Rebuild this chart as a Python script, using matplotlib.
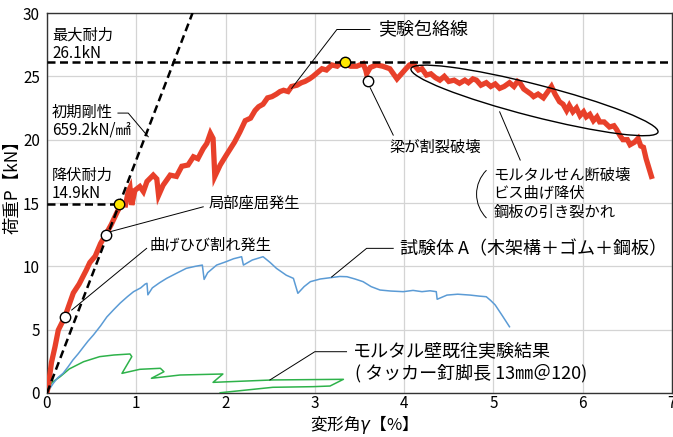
import numpy as np
import matplotlib
matplotlib.use('Agg')
import matplotlib.pyplot as plt
from matplotlib.patches import Ellipse, Arc
from matplotlib.transforms import ScaledTranslation

plt.rcParams['font.family'] = ['Noto Sans CJK JP', 'DejaVu Sans']

# 実験包絡線 (red)
env_x = [0, 0.02, 0.05, 0.09, 0.127, 0.2, 0.24, 0.295, 0.36, 0.44, 0.48, 0.54, 0.6, 0.657,
         0.72, 0.78, 0.83, 0.88, 0.91, 0.93, 0.95, 0.985, 1.04, 1.08, 1.12, 1.19, 1.23, 1.25,
         1.3, 1.38, 1.45, 1.51, 1.58, 1.64, 1.69, 1.75, 1.79, 1.83, 1.86, 1.87, 1.88,
         1.94, 2.01, 2.1, 2.16, 2.22, 2.28, 2.33, 2.37, 2.42, 2.47, 2.52, 2.57,
         2.61, 2.65, 2.7, 2.74, 2.8, 2.85, 2.89, 2.94, 2.98, 3.03, 3.08, 3.13, 3.19, 3.25,
         3.29, 3.34, 3.4, 3.47, 3.54, 3.57, 3.58, 3.62, 3.69, 3.76, 3.84, 3.88, 3.92, 3.97, 4.02,
         4.06, 4.1, 4.16, 4.2, 4.25, 4.3, 4.35, 4.4, 4.45, 4.5, 4.56, 4.62, 4.68, 4.72, 4.77,
         4.81, 4.86, 4.92, 4.97, 5.02, 5.07, 5.12, 5.18, 5.23, 5.27, 5.3, 5.34, 5.38, 5.42,
         5.45, 5.5, 5.56, 5.6, 5.65, 5.69, 5.74, 5.78, 5.82, 5.85, 5.89, 5.93, 5.97, 6.01,
         6.04, 6.08, 6.12, 6.16, 6.19, 6.24, 6.3, 6.35, 6.38, 6.42, 6.45, 6.5, 6.53, 6.58,
         6.62, 6.65, 6.68, 6.71, 6.74, 6.77]
env_y = [0, 0.8, 2.4, 3.65, 4.97, 6.0, 6.8, 7.9, 8.6, 9.7, 10.3, 10.8, 11.8, 12.5,
         13.3, 14.2, 14.9, 14.85, 15.9, 16.2, 14.85, 16.0, 16.3, 15.9, 16.7, 17.2, 16.9, 15.6,
         16.4, 17.2, 17.1, 17.9, 18.0, 18.65, 18.5, 19.3, 19.7, 20.5, 20.1, 18.6, 17.1,
         18.0, 18.8, 19.8, 20.6, 21.5, 21.7, 22.3, 22.6, 22.8, 23.3, 23.4, 23.6,
         23.8, 23.9, 23.8, 24.2, 24.3, 24.5, 24.6, 24.8, 25.0, 25.3, 25.6, 25.5, 25.9, 25.8,
         26.05, 26.0, 25.8, 25.8, 26.0, 25.5, 25.2, 25.7, 25.9, 25.8, 25.6, 25.2, 24.8, 25.2, 25.6,
         25.9, 26.0, 25.5, 25.6, 25.1, 25.2, 24.9, 24.7, 25.0, 24.6, 24.7, 24.45, 24.7, 24.5, 24.8,
         24.7, 24.3, 24.5, 24.2, 24.4, 24.05, 24.2, 24.5, 24.2, 24.6, 24.45, 24.0, 23.8, 23.6,
         23.4, 23.6, 23.3, 23.7, 24.2, 23.6, 23.0, 22.8, 22.3, 22.7, 22.2, 22.5, 21.9, 22.2,
         21.8, 22.0, 21.5, 21.8, 21.4, 21.4, 21.0, 21.1, 20.8, 20.3, 20.0, 20.0, 19.6, 19.8,
         20.1, 19.5, 19.4, 18.5, 17.8, 17.1]

# 試験体A (blue)
a_x = [0, 0.07, 0.12, 0.18, 0.24, 0.29, 0.35, 0.41, 0.46, 0.52, 0.6, 0.67, 0.75, 0.82, 0.9,
       0.97, 1.05, 1.1, 1.12, 1.13, 1.18, 1.26, 1.34, 1.45, 1.56, 1.66, 1.74, 1.76, 1.8, 1.9,
       2.0, 2.09, 2.18, 2.2, 2.3, 2.42, 2.5, 2.57, 2.68, 2.76, 2.81, 2.88, 2.95, 3.06, 3.17,
       3.28, 3.36, 3.45, 3.54, 3.63, 3.73, 3.85, 3.99, 4.1, 4.2, 4.29, 4.36, 4.37, 4.48, 4.6,
       4.74, 4.84, 4.92, 4.97, 5.02, 5.1, 5.18]
a_y = [0, 0.76, 1.2, 1.55, 2.1, 2.6, 3.1, 3.65, 4.1, 4.58, 5.3, 6.0, 6.6, 7.1, 7.6,
       8.0, 8.3, 8.6, 8.66, 7.75, 8.3, 8.7, 9.05, 9.45, 9.84, 10.0, 10.1, 8.97, 9.5, 10.1,
       10.35, 10.6, 10.76, 10.1, 10.5, 10.76, 10.3, 9.84, 9.3, 9.05, 7.87, 8.4, 8.79, 9.0, 9.1,
       9.2, 9.18, 9.0, 8.79, 8.4, 8.13, 8.05, 8.0, 8.1, 8.0, 8.07, 8.0, 7.4, 7.73, 7.8,
       7.73, 7.65, 7.6, 7.3, 6.95, 6.1, 5.23]

# モルタル壁既往実験結果 (green)
m_x = [0, 0.05, 0.15, 0.25, 0.41, 0.59, 0.75, 0.93, 0.95, 0.84, 1.04, 1.27, 1.31, 1.17,
       1.49, 1.97, 1.86, 2.53, 3.32, 3.17, 2.98, 2.53, 1.94]
m_y = [0, 0.8, 1.3, 1.9, 2.47, 2.87, 3.0, 3.08, 2.87, 1.55, 1.87, 1.95, 1.68, 1.16,
       1.42, 1.5, 0.84, 1.03, 1.08, 0.55, 0.5, 0.45, 0.02]

p_max = 26.1
p_yield = 14.9
stiff_x = [0, 1.63]
stiff_y = [0, 30]
yellow_x = [0.81, 3.34]
yellow_y = [p_yield, p_max]
white_x = [0.2, 0.657, 3.59]
white_y = [6.0, 12.47, 24.65]

fig = plt.figure(figsize=(6.73, 4.37), dpi=100)
ax = fig.add_axes([0.0698, 0.1007, 0.9287, 0.8695])
ax.set_xlim(0, 7)
ax.set_ylim(0, 30)
ax.set_xticks(range(0, 8))
ax.set_yticks(range(0, 31, 5))
ax.grid(True, color='#d4d4d4', lw=0.9)
ax.set_axisbelow(True)
for s in ax.spines.values():
    s.set_color('#333333')
    s.set_linewidth(1.0)
ax.tick_params(length=0, labelsize=11)
ax.tick_params(axis='y', pad=5)
ax.tick_params(axis='x', pad=1.5)

ax.plot(m_x, m_y, color='#2eb24a', lw=1.1, zorder=3)
ax.plot(a_x, a_y, color='#5b9bd5', lw=1.1, zorder=3)
ax.plot(stiff_x, stiff_y, color='black', lw=1.8, dashes=(3.2, 1.8), zorder=5)
ax.axhline(p_max, color='black', lw=1.8, dashes=(3.2, 1.8), zorder=5)
ax.plot([0, yellow_x[0]], [p_yield, p_yield], color='black', lw=1.8, dashes=(3.2, 1.8), zorder=5)
ax.plot(env_x, env_y, color='#e8402a', lw=3.8, zorder=4, solid_joinstyle='miter')
ax.plot(white_x, white_y, 'o', ms=7.5, mfc='white', mec='black', mew=1.0, zorder=6)
ax.plot(yellow_x, yellow_y, 'o', ms=7.5, mfc='#ffe800', mec='black', mew=1.0, zorder=6)

# leader lines
lk = dict(color='black', lw=0.7, zorder=5)
ax.plot([0.795, 0.91, 1.134], [22.1, 22.1, 20.23], **lk)
ax.plot([0.705, 1.75], [12.73, 14.7], **lk)
ax.plot([0.277, 1.116], [6.55, 11.42], **lk)
ax.plot([2.74, 3.247, 3.617], [24.05, 28.7, 28.7], **lk)
ax.plot([3.62, 3.878], [24.1, 20.36], **lk)
ax.plot([5.07, 5.3], [22.2, 18.39], **lk)
ax.plot([3.188, 3.58, 3.878], [9.16, 11.42, 11.42], **lk)
ax.plot([2.497, 3.0, 3.355], [1.03, 3.26, 3.26], **lk)

ell = Ellipse((0, 0), 2.55, 0.32, angle=-14.4, fill=False, ec='black', lw=1.0,
              transform=fig.dpi_scale_trans + ScaledTranslation(5.46, 23.1, ax.transData), zorder=6)
ax.add_patch(ell)
par = Arc((0, 0), 0.676, 0.676, theta1=135, theta2=225, color='black', lw=0.7,
          transform=fig.dpi_scale_trans + ScaledTranslation(5.19, 15.7, ax.transData))
ax.add_patch(par)

sm = 11
big = 13
ax.text(0.056, 28.26, '最大耐力', fontsize=sm, va='center')
ax.text(0.056, 26.81, '26.1kN', fontsize=sm, va='center')
ax.text(0.056, 22.12, '初期剛性', fontsize=sm, va='center')
ax.text(0.056, 20.76, '659.2kN/㎟', fontsize=sm, va='center')
ax.text(0.056, 17.21, '降伏耐力', fontsize=sm, va='center')
ax.text(0.056, 15.76, '14.9kN', fontsize=sm, va='center')
ax.text(1.806, 15.02, '局部座屈発生', fontsize=sm, va='center')
ax.text(1.153, 11.68, '曲げひび割れ発生', fontsize=sm, va='center')
ax.text(3.71, 28.7, '実験包絡線', fontsize=big, va='center')
ax.text(3.84, 19.44, '梁が割裂破壊', fontsize=sm, va='center')
ax.text(5.0, 17.2, 'モルタルせん断破壊', fontsize=sm, va='center')
ax.text(5.0, 15.76, 'ビス曲げ降伏', fontsize=sm, va='center')
ax.text(5.0, 14.31, '鋼板の引き裂かれ', fontsize=sm, va='center')
ax.text(3.953, 11.34, '試験体 A（木架構＋ゴム＋鋼板）', fontsize=big, va='center')
ax.text(3.43, 3.26, 'モルタル壁既往実験結果', fontsize=big, va='center')
ax.text(3.45, 1.55, '( タッカー釘脚長 13㎜＠120)', fontsize=big, va='center')

ax.text(0.5, -0.082, '変形角$\\gamma$【%】', transform=ax.transAxes, fontsize=12,
        ha='center', va='center')
ax.text(-0.056, 0.553, '荷重P【kN】', transform=ax.transAxes, fontsize=12.5,
        ha='center', va='center', rotation=90)

fig.savefig('out.png', dpi=100)
